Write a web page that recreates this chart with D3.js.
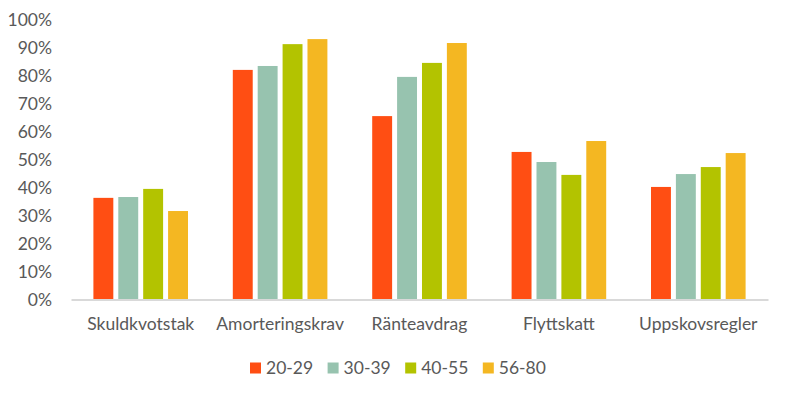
<!DOCTYPE html>
<html>
<head>
<meta charset="utf-8">
<script src="https://cdn.jsdelivr.net/npm/d3@7"></script>
<style>
  body { margin: 0; background: #fff; }
  svg text { font-family: Lato, "Open Sans", sans-serif; fill: #595959; }
</style>
</head>
<body>
<div class="chart"></div>
<script>
// data (share in %)
var categories = ["Skuldkvotstak", "Amorteringskrav", "Ränteavdrag", "Flyttskatt", "Uppskovsregler"];
var series = ["20-29", "30-39", "40-55", "56-80"];
var colors = ["#FF4E13", "#97C3AF", "#B3C300", "#F4B722"];
var age20 = [36.3, 82.0, 65.5, 52.7, 40.2];
var age30 = [36.6, 83.4, 79.5, 49.1, 44.8];
var age40 = [39.5, 91.2, 84.5, 44.5, 47.3];
var age56 = [31.6, 93.0, 91.6, 56.6, 52.3];
var yTicks = [0, 10, 20, 30, 40, 50, 60, 70, 80, 90, 100];

var values = [age20, age30, age40, age56];
var rows = categories.map(function(c, i) {
  return { cat: c, vals: series.map(function(s, j) { return { key: s, v: values[j][i], c: colors[j] }; }) };
});

var W = 785, H = 395;
var margin = {top: 19.5, right: 17, bottom: 95.5, left: 71}
  , width = W - margin.left - margin.right
  , height = H - margin.top - margin.bottom;

var svg = d3.select(".chart").append("svg")
    .attr("width", W)
    .attr("height", H)
  .append("g")
    .attr("transform", "translate(" + margin.left + "," + margin.top + ")");

var x0 = d3.scaleBand()
    .domain(categories)
    .range([0, width]);

var x1 = d3.scaleBand()
    .domain(series)
    .range([0, x0.bandwidth()])
    .paddingInner(0.2)
    .paddingOuter(0.9);

var y = d3.scaleLinear()
    .domain([0, 100])
    .range([height, 0]);

// y axis labels, no line, no ticks
var yAxis = svg.append("g")
    .call(d3.axisLeft(y).tickValues(yTicks).tickSize(0).tickPadding(19).tickFormat(function(d) { return d + "%"; }));
yAxis.select(".domain").remove();
yAxis.selectAll("text").style("font-size", "17.5px").style("font-family", "Lato, sans-serif").attr("fill", "#595959");

// bars
var groups = svg.selectAll(".grp")
    .data(rows)
  .enter().append("g")
    .attr("class", "grp")
    .attr("transform", function(d) { return "translate(" + x0(d.cat) + ",0)"; });

groups.selectAll("rect")
    .data(function(d) { return d.vals; })
  .enter().append("rect")
    .attr("x", function(d) { return x1(d.key); })
    .attr("width", x1.bandwidth())
    .attr("y", function(d) { return y(d.v); })
    .attr("height", function(d) { return height - y(d.v); })
    .attr("fill", function(d) { return d.c; });

// x axis
var xAxis = svg.append("g")
    .attr("transform", "translate(0," + height + ")")
    .call(d3.axisBottom(x0).tickSize(0).tickPadding(18));
xAxis.select(".domain").attr("stroke", "#D9D9D9").attr("stroke-width", 2);
xAxis.selectAll("text").style("font-size", "17.5px").style("font-family", "Lato, sans-serif").attr("fill", "#595959");

// legend
var legend = svg.append("g")
    .attr("transform", "translate(" + (250 - margin.left) + "," + (362.5 - margin.top) + ")");

var item = legend.selectAll(".item")
    .data(series)
  .enter().append("g")
    .attr("class", "item")
    .attr("transform", function(d, i) { return "translate(" + (i * 77.6) + ",0)"; });

item.append("rect")
    .attr("width", 11)
    .attr("height", 11)
    .attr("fill", function(d, i) { return colors[i]; });

item.append("text")
    .attr("x", 16)
    .attr("y", 5.5)
    .attr("dy", "0.35em")
    .style("font-size", "17.5px")
    .text(function(d) { return d; });
</script>
</body>
</html>
